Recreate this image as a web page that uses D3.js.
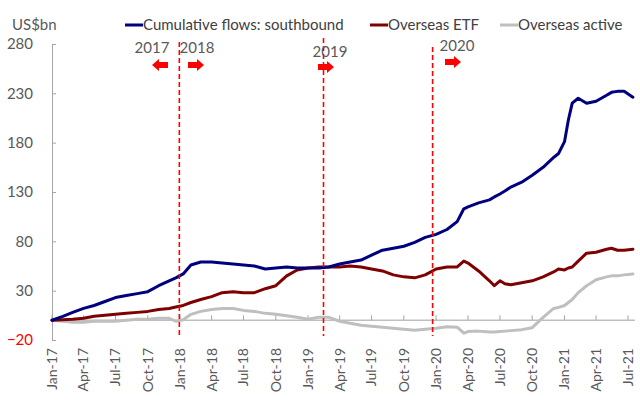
<!DOCTYPE html>
<html>
<head>
<meta charset="utf-8">
<script src="https://cdn.jsdelivr.net/npm/d3@7"></script>
<style>
  html, body { margin: 0; padding: 0; background: #fff; }
  svg { display: block; }
  text { font-family: Lato, "Liberation Sans", sans-serif; }
</style>
</head>
<body>
<svg id="chart" width="640" height="410"></svg>
<script>
// ---------------- DATA ----------------
const dates = [
  "2017-01-01","2017-02-01","2017-03-01","2017-04-01","2017-05-01","2017-06-01",
  "2017-07-01","2017-08-01","2017-09-01","2017-10-01","2017-11-01","2017-12-01",
  "2017-12-20","2018-01-10","2018-02-01","2018-03-01","2018-04-01","2018-05-01",
  "2018-06-01","2018-07-01","2018-08-01","2018-09-01","2018-10-01","2018-11-01",
  "2018-12-01","2019-01-01","2019-02-01","2019-03-01","2019-04-01","2019-05-01",
  "2019-06-01","2019-07-01","2019-08-01","2019-09-01","2019-10-01","2019-11-01",
  "2019-12-01","2020-01-01","2020-02-01","2020-03-01","2020-03-20","2020-04-01",
  "2020-05-01","2020-06-01","2020-06-15","2020-07-01","2020-07-15","2020-08-01",
  "2020-09-01","2020-10-01","2020-11-01","2020-12-01","2020-12-15","2021-01-01",
  "2021-01-12","2021-01-23","2021-02-09","2021-03-05","2021-04-01","2021-05-01",
  "2021-05-15","2021-06-01","2021-06-20","2021-07-15"
];
const southbound = [
  0, 4, 8, 12, 15, 19,
  23, 25, 27, 29, 35, 40,
  43, 47, 56, 59, 59, 58,
  57, 56, 55, 52, 53, 54,
  53, 53, 53, 54, 57, 59,
  61, 66, 71, 73, 75, 79,
  84, 87, 92, 100, 113, 115,
  119, 122, 125, 128, 131, 135,
  140, 147, 155, 165, 169, 181,
  203, 220, 225, 220, 222, 228,
  231, 232, 232, 226
];
const overseasETF = [
  0, 0.5, 1, 2, 4, 5,
  6, 7, 8, 9, 11, 12,
  13.5, 15, 18, 21, 24, 28,
  29, 28, 28, 32, 35, 45,
  51, 53, 54, 54, 54, 55,
  54, 52, 50, 46, 44, 43,
  46, 52, 54, 54, 60, 58,
  50, 40, 35, 40, 37, 36,
  38, 40, 44, 49, 52, 51,
  53, 54, 60, 68, 69, 72,
  73, 71, 71, 72
];
const overseasActive = [
  0, -1, -2, -2, -1, -1,
  -1, 0, 1, 1, 2, 2,
  -1, 0.5, 6, 9, 11, 12,
  12, 10, 9, 7, 6, 4.5,
  3, 1, 3, 3, -1, -3,
  -5, -6, -7, -8, -9, -10,
  -9, -8, -6.5, -7, -13, -11.5,
  -11, -12, -12, -11.5, -11, -10.5,
  -9.5, -7.5, 3, 12, 13, 15,
  18, 21, 28, 35, 41, 44,
  45, 45, 46, 47
];
const seriesNames = ["Cumulative flows: southbound", "Overseas ETF", "Overseas active"];
const seriesColors = ["#00007f", "#7f0000", "#bfbfbf"];
const yTicks = [-20, 30, 80, 130, 180, 230, 280];
const xTickDates = [
  "2017-01-01","2017-04-01","2017-07-01","2017-10-01","2018-01-01","2018-04-01",
  "2018-07-01","2018-10-01","2019-01-01","2019-04-01","2019-07-01","2019-10-01",
  "2020-01-01","2020-04-01","2020-07-01","2020-10-01","2021-01-01","2021-04-01","2021-07-01"
];
const markerDates = ["2017-12-30", "2019-02-14", "2019-12-22"];
const markerYears = [
  { label: "2017", marker: 0, dir: -1 },
  { label: "2018", marker: 0, dir: 1 },
  { label: "2019", marker: 1, dir: 1 },
  { label: "2020", marker: 2, dir: 1 }
];

// ---------------- CHART ----------------
const parse = d3.timeParse("%Y-%m-%d");
const fmt = d3.timeFormat("%b-%y");
const svg = d3.select("#chart");

const x = d3.scaleTime()
  .domain([parse("2017-01-01"), parse("2021-07-01")])
  .range([52, 628]);
const y = d3.scaleLinear().domain([-20, 280]).range([340, 44]);

const textColor = "#595959";

// Y axis
const yAxis = d3.axisLeft(y).tickValues(yTicks).tickSizeInner(-4).tickSizeOuter(-4).tickPadding(19)
  .tickFormat(d3.format("d"));
const gy = svg.append("g").attr("transform", "translate(52,0)").call(yAxis);
gy.select(".domain").attr("stroke", "#a6a6a6");
gy.selectAll(".tick line").attr("stroke", "#a6a6a6");
gy.selectAll(".tick text")
  .attr("font-family", "Lato, 'Liberation Sans', sans-serif")
  .attr("font-size", 15)
  .attr("fill", d => d < 0 ? "#ff0000" : textColor);

// X zero line with ticks
const lastDate = parse(dates[dates.length - 1]);
const xTicks = xTickDates.map(parse);
const gx = svg.append("g").attr("transform", `translate(0,${y(0)})`);
gx.append("line").attr("x1", x.range()[0]).attr("x2", x(lastDate) + 2)
  .attr("stroke", "#bfbfbf").attr("stroke-width", 1.5);
gx.selectAll("line.tk").data(xTicks).join("line").attr("class", "tk")
  .attr("x1", d => x(d)).attr("x2", d => x(d)).attr("y1", 0).attr("y2", -5)
  .attr("stroke", "#a6a6a6");

// X labels (rotated)
svg.append("g").selectAll("text").data(xTicks).join("text")
  .attr("transform", d => `translate(${x(d)},348) rotate(-90)`)
  .attr("text-anchor", "end").attr("dy", "0.35em")
  .attr("font-size", 14).attr("fill", textColor)
  .text(d => fmt(d));

// Series lines
const pd = dates.map(parse);
const lineGen = d3.line().x(d => x(d[0])).y(d => y(d[1])).curve(d3.curveLinear);
const allSeries = [overseasActive, overseasETF, southbound];
const allColors = [seriesColors[2], seriesColors[1], seriesColors[0]];
allSeries.forEach((vals, i) => {
  svg.append("path")
    .datum(pd.map((d, j) => [d, vals[j]]))
    .attr("d", lineGen)
    .attr("fill", "none")
    .attr("stroke", allColors[i])
    .attr("stroke-width", 3)
    .attr("stroke-linejoin", "round")
    .attr("stroke-linecap", "round");
});

// Red dashed marker lines
const mTops = [42, 38, 47];
markerDates.forEach((md, i) => {
  svg.append("line")
    .attr("x1", x(parse(md))).attr("x2", x(parse(md)))
    .attr("y1", mTops[i]).attr("y2", 336)
    .attr("stroke", "#ff0000").attr("stroke-width", 1.6)
    .attr("stroke-dasharray", "5,3");
});

// Year labels & arrows
function arrowPath(cx, cy, dir) {
  const p = [[-8, -3], [1, -3], [1, -6], [8, 0], [1, 6], [1, 3], [-8, 3]];
  return "M" + p.map(([a, b]) => [cx + dir * a, cy + b].join(",")).join("L") + "Z";
}
const yearPos = [
  { tx: 152, ty: 48, ax: 160, ay: 65 },
  { tx: 197, ty: 48, ax: 196, ay: 65 },
  { tx: 330, ty: 52, ax: 326, ay: 67 },
  { tx: 457, ty: 46, ax: 453, ay: 62 }
];
markerYears.forEach((m, i) => {
  const p = yearPos[i];
  svg.append("text").attr("x", p.tx).attr("y", p.ty).attr("dy", "0.35em")
    .attr("text-anchor", "middle").attr("font-size", 15).attr("fill", textColor)
    .text(m.label);
  svg.append("path").attr("d", arrowPath(p.ax, p.ay, m.dir)).attr("fill", "#ff0000");
});

// Unit label
svg.append("text").attr("x", 12).attr("y", 25).attr("dy", "0.35em")
  .attr("font-size", 15).attr("fill", textColor).text("US$bn");

// Legend
const legendX = [125, 370, 500];
seriesNames.forEach((name, i) => {
  const g = svg.append("g").attr("transform", `translate(${legendX[i]},25)`);
  g.append("line").attr("x1", 0).attr("x2", 18).attr("stroke", seriesColors[i]).attr("stroke-width", 3);
  g.append("text").attr("x", 18).attr("dy", "0.35em").attr("font-size", 15)
    .attr("fill", "#404040").text(name);
});
</script>
</body>
</html>
